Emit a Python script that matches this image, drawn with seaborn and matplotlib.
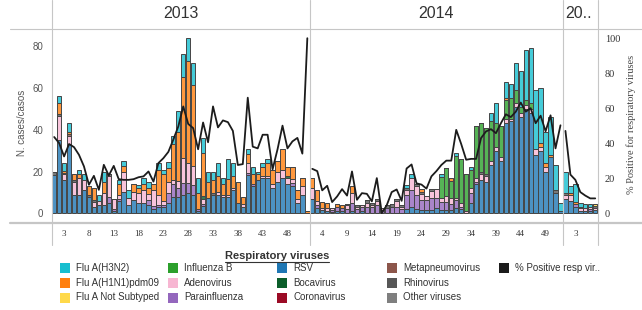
import numpy as np
import pandas as pd
import matplotlib
matplotlib.use("Agg")
import matplotlib.pyplot as plt
from matplotlib.lines import Line2D
from matplotlib.patches import Rectangle
import seaborn as sns

# ---- data: weekly cases per virus, one list per year pane ----
years = ["2013", "2014", "20.."]
weeks_2013 = list(range(1, 53))
weeks_2014 = list(range(2, 53))
weeks_2015 = list(range(1, 8))

rsv_2013 = [18.5, 35, 16, 33, 9, 9, 11, 8, 3, 4, 4, 5, 1, 6, 10.5, 4, 6.5, 5, 5, 4, 2, 3, 3, 5, 8, 8,
            9, 9.7, 9, 1, 3.5, 7.5, 9, 9, 8, 8, 11, 5, 3, 18.5, 13, 16, 17, 17, 12, 15, 17, 14, 13, 5, 9, 0]
rsv_2014 = [7, 2.5, 1.5, 1, 0.5, 1, 1, 0, 1, 0, 1, 0, 0, 0, 0, 0, 0, 0, 0, 2, 3, 2, 1.5, 1.5, 1.6, 2.6,
            1.5, 1.5, 1.5, 2.5, 2, 0, 5, 14, 16, 15, 23, 30, 25, 43, 44, 51, 46, 50, 48, 28, 30, 20, 27, 10, 1]
rsv_2015 = [7, 6, 3, 1, 1, 1, 1.5]

para_2013 = [0, 0, 0, 0, 0, 0, 0, 0, 0, 0, 0, 3, 1, 1, 0, 0, 0, 0, 0, 2.5, 1.5, 1, 1, 5, 6, 4,
             5.5, 5, 4.8, 1, 1, 0, 0, 0, 0, 0, 0, 0, 0, 1, 1, 0, 0, 0, 0, 0, 0, 0, 1.5, 0, 0, 0]
para_2014 = [0, 1.5, 0, 0, 1, 2, 1.5, 2, 4, 2, 2, 3, 3, 4, 1.5, 2.5, 3, 3, 2, 7, 8, 7, 5, 5, 6, 5,
             4, 4, 3, 4, 1, 0, 5, 1, 0, 0, 0, 0, 0, 0, 0, 0, 0, 0, 0, 0, 0, 0, 0, 0, 0]
para_2015 = [0, 0, 1.5, 0, 0, 1, 0]

adeno_2013 = [0, 11.5, 3, 4, 6, 8, 5, 0, 2.5, 2, 6, 10, 5, 2, 9.5, 3.5, 4, 5, 6, 3, 7.5, 5, 2, 5, 2, 3.5,
              12, 9.5, 8.7, 0, 2.5, 0, 0, 1.5, 1, 1, 1, 0, 1.5, 4.5, 0, 0, 1, 1, 2, 5, 4, 3, 2, 2, 4, 0]
adeno_2014 = [5, 2, 1, 1.5, 1, 0, 0, 2, 5, 1, 1, 2, 1, 2, 1, 0, 0, 3, 1, 2, 6, 4, 3, 2, 3, 4,
              2, 3, 3, 1, 2, 1, 2, 2, 3, 3, 2, 2, 2, 2, 1, 2, 2, 2, 2, 3, 2, 2, 0, 0, 0]
adeno_2015 = [2, 3, 0, 1.5, 1.5, 1, 1]

rhino_2013 = [1.5, 1, 0.5, 0, 1, 0, 0, 1, 1, 0, 0, 1, 0, 0, 0, 0, 0, 0, 0, 0, 0, 0, 0, 0, 0, 0,
              0, 0, 0, 0, 0, 0, 0.8, 0, 0, 0, 0, 0, 0, 0, 0, 0, 0, 0, 0, 0, 0, 0, 0, 0, 0, 0]
rhino_2014 = [0, 0, 0, 0, 0, 0, 0, 0.5, 0, 1, 0, 1.5, 1, 1, 0, 1.5, 1.5, 1, 1, 1, 0, 1, 1, 0, 1, 0,
              0, 0, 0, 0, 0, 0, 0, 0, 1, 1, 0, 0, 0, 0, 0, 0, 0, 0, 0, 0, 0, 0, 0, 1, 0]
rhino_2015 = [1, 0, 0, 0.5, 0, 0, 1]

metapneumo_2013 = [0, 0, 0, 1, 0, 0, 0, 0, 0, 0, 0, 0, 0, 0, 0, 0, 0, 0, 0, 0, 0, 0, 0, 0, 0, 0,
                   0, 0, 0, 0, 0, 0, 0, 0, 0, 0, 0, 0, 0, 0, 0, 0, 0, 0, 0, 0, 0, 0, 0, 0, 0, 0]
boca_2013 = [0, 0, 0, 0, 0, 0, 0, 0, 0, 0, 0, 0, 0, 0, 0, 0, 0, 0, 0, 0, 0, 0, 0, 0, 0, 0,
             0, 0, 0, 0, 1.2, 0, 0, 0, 0, 0, 0, 0, 0, 0, 0, 0, 0, 0, 0, 0, 0, 1, 0, 0, 0, 0]

h1n1_2013 = [0, 5.5, 1, 1, 3, 2, 0, 4, 5.5, 0, 5, 0, 0, 5, 2.5, 0, 3.5, 2, 3, 2.5, 3, 12, 13, 6.5, 17, 23.5,
             38.5, 48.5, 39, 8, 20.8, 7.5, 6.2, 7.5, 5, 7.5, 6, 10, 3.5, 4.5, 5, 3, 4, 6, 7, 5, 10, 4, 5.5, 4, 4, 1]
h1n1_2014 = [5, 5, 3, 2.5, 0, 1.5, 1.5, 0, 3, 0, 0, 0, 0, 0, 0, 0, 0, 0, 0, 0, 0, 0, 1, 0, 0, 0,
             0, 0, 1.5, 0, 0, 0, 0, 0, 0, 0, 0, 0, 0, 1, 0, 0, 0, 0, 0, 0, 1.5, 2, 1, 0, 0]
h1n1_2015 = [0, 1, 1, 0, 0, 0, 0]

flub_2014 = [0, 0, 0, 0, 0, 0, 0, 0, 0, 0, 0, 0, 0, 0, 0, 0, 0, 0, 0, 0, 0, 0, 0, 0, 0, 0,
             10, 13, 8, 20, 21, 18, 9, 25, 23, 22, 19, 11, 15, 9, 10, 6, 3, 2, 3, 0, 0, 0, 0, 0, 0]

h3n2_2013 = [0, 3, 3.5, 4, 0, 2, 3, 0, 0, 3, 5, 0, 0, 2, 2.5, 3.5, 0, 1.5, 3, 3, 0, 3, 2, 3, 4, 10,
             11, 11, 10.5, 7, 7, 5, 4, 6, 3, 9.5, 6, 0, 0, 2.5, 3, 1, 2, 2, 0, 0, 0, 0, 0, 0, 0, 0]
h3n2_2014 = [0, 0, 0, 0, 0, 0, 0, 0, 0, 0, 0, 0, 0, 0, 0, 0, 0, 0, 0, 1.5, 2, 0, 0, 0, 0, 0,
             1.5, 0, 0, 1.5, 0, 0, 1, 0, 0, 0, 4, 10, 0, 8, 7, 13, 17, 24, 26, 28, 26.5, 15, 18, 12, 4]
h3n2_2015 = [10, 3, 8.5, 2, 2, 1.5, 0]

notsub_2015 = [0, 0, 0, 0, 0, 0, 1]

# % positive for respiratory viruses
pct_2013 = [43.5, 40, 32.4, 39.5, 37.7, 33.3, 26.7, 16.2, 21.3, 13.3, 27.6, 21.5, 27, 19.4, 19, 19, 19.4,
            20.5, 21, 23.8, 18, 28.6, 31.4, 35, 42, 49.5, 61, 51, 48.6, 36.5, 51.8, 40.5, 61, 49, 53, 52,
            47, 27.5, 28, 66, 38, 37, 44.8, 44.8, 25, 36.5, 50, 37, 41, 43, 34, 100]
pct_2014 = [25.3, 24, 13, 15.6, 6.3, 9.5, 13.7, 10, 23.8, 7.6, 11.4, 11, 6.7, 20, 0, 4.5, 12, 13.5, 7,
            25.5, 27.8, 17, 16.3, 14, 21, 24, 27.5, 30, 30, 47.6, 39.5, 30.5, 31, 31, 42.9, 46.7, 48,
            45.7, 51.4, 56.5, 54.9, 58, 63.2, 58, 60, 51.4, 55.7, 46.8, 55.9, 37, 50.2]
pct_2015 = [47, 22, 19, 12, 10, 8.4, 8.4]

# ---- assemble ----
n13, n14, n15 = len(weeks_2013), len(weeks_2014), len(weeks_2015)
zeros13, zeros14, zeros15 = [0] * n13, [0] * n14, [0] * n15
week_labels = weeks_2013 + weeks_2014 + weeks_2015
pos = np.arange(len(week_labels))
pane = [years[0]] * n13 + [years[1]] * n14 + [years[2]] * n15

# stacking order: first is on top
series = {
    "Flu A(H3N2)": h3n2_2013 + h3n2_2014 + h3n2_2015,
    "Flu A(H1N1)pdm09": h1n1_2013 + h1n1_2014 + h1n1_2015,
    "Flu A Not Subtyped": zeros13 + zeros14 + notsub_2015,
    "Influenza B": zeros13 + flub_2014 + zeros15,
    "Bocavirus": boca_2013 + zeros14 + zeros15,
    "Metapneumovirus": metapneumo_2013 + zeros14 + zeros15,
    "Rhinovirus": rhino_2013 + rhino_2014 + rhino_2015,
    "Adenovirus": adeno_2013 + adeno_2014 + adeno_2015,
    "Parainfluenza": para_2013 + para_2014 + para_2015,
    "RSV": rsv_2013 + rsv_2014 + rsv_2015,
}
rows = []
for name, vals in series.items():
    for p, v in zip(pos, vals):
        rows.append((p, name, v))
cases_df = pd.DataFrame(rows, columns=["pos", "virus", "cases"])
pct_df = pd.DataFrame({"pos": pos, "pct": pct_2013 + pct_2014 + pct_2015, "pane": pane})

colors = {
    "Flu A(H3N2)": "#17becf",
    "Flu A(H1N1)pdm09": "#ff7f0e",
    "Flu A Not Subtyped": "#ffd94a",
    "Influenza B": "#2ca02c",
    "Adenovirus": "#f7b6d2",
    "Parainfluenza": "#9467bd",
    "RSV": "#1f77b4",
    "Bocavirus": "#0b5e2a",
    "Coronavirus": "#9b0b25",
    "Metapneumovirus": "#8c564b",
    "Rhinovirus": "#575757",
    "Other viruses": "#7f7f7f",
}
line_color = "#1c1c1c"

# ---- figure ----
sns.set_theme(style="white")
plt.rcParams["font.family"] = ["Liberation Sans", "DejaVu Sans"]

W, H = 642, 310
fig = plt.figure(figsize=(W / 100, H / 100), dpi=100)


def fx(x):
    return x / W


def fy(y):
    return 1 - y / H


ax_l, ax_r, ax_t, ax_b = 51.7, 597.7, 29.3, 222.7
ax = fig.add_axes([fx(ax_l), fy(ax_b), (ax_r - ax_l) / W, (ax_b - ax_t) / H])

sns.histplot(data=cases_df, x="pos", weights="cases", hue="virus", hue_order=list(series.keys()),
             palette=colors, multiple="stack", discrete=True, shrink=0.88, alpha=0.8,
             edgecolor="#454545", linewidth=0.7, legend=False, ax=ax)
ax.set_xlim(-0.5, len(pos) - 0.5)
ax.set_ylim(-4.4, 88)
ax.set_yticks([0, 20, 40, 60, 80])
ax.tick_params(axis="y", length=0, pad=6, labelsize=7, labelcolor="#555555")
ax.set_xlabel("")
ax.set_ylabel("")

# x ticks: every 5th week inside each pane
offsets = [0, n13, n13 + n14]
ticks = []
for off, n in zip(offsets, [n13, n14, n15]):
    ticks += [off + i for i in range(2, n, 5)]
ax.set_xticks(ticks)
ax.set_xticklabels([str(week_labels[t]) for t in ticks], fontfamily="Liberation Serif",
                   fontsize=6.5, color="#333333")
ax.tick_params(axis="x", length=0, pad=5)

ax2 = ax.twinx()
sns.lineplot(data=pct_df, x="pos", y="pct", units="pane", estimator=None, color=line_color,
             lw=1.3, ax=ax2)
ax2.set_ylim(-5.5, 105.1)
ax2.set_xlim(-0.5, len(pos) - 0.5)
ax2.set_yticks([0, 20, 40, 60, 80, 100])
ax2.set_yticklabels(["0", "20", "40", "60", "80", "100"], fontfamily="Liberation Serif",
                    fontsize=7.5, color="#333333")
ax2.tick_params(axis="y", length=0, pad=5)
ax2.set_ylabel("")
ax2.set_xlabel("")
for a in (ax, ax2):
    for s in a.spines.values():
        s.set_visible(False)
    a.grid(False)

# pane frame lines
grid_c = "#c6c6c6"
fig.add_artist(Line2D([fx(10), fx(W)], [fy(ax_t), fy(ax_t)], color=grid_c, lw=0.8))
fig.add_artist(Line2D([fx(10), fx(W)], [fy(ax_b), fy(ax_b)], color=grid_c, lw=1.6))
x_per = (ax_r - ax_l) / len(pos)
bounds = [ax_l, ax_l + n13 * x_per, ax_l + (n13 + n14) * x_per, ax_r]
for bx in bounds:
    fig.add_artist(Line2D([fx(bx), fx(bx)], [fy(0), fy(245)], color=grid_c, lw=0.8))

fig.text(fx((bounds[0] + bounds[1]) / 2), fy(13), years[0], ha="center", va="center",
         fontsize=11.5, color="#333333")
fig.text(fx((bounds[1] + bounds[2]) / 2), fy(13), years[1], ha="center", va="center",
         fontsize=11.5, color="#333333")
fig.text(fx(bounds[2] + 2), fy(13), years[2], ha="left", va="center", fontsize=11.5, color="#333333")

fig.text(fx(22), fy(123), "N. cases/casos", rotation=90, ha="center", va="center",
         fontsize=7, color="#555555")
fig.text(fx(631), fy(124), "% Positive for respiratory viruses", rotation=90, ha="center",
         va="center", fontsize=7.5, color="#444444", fontfamily="Liberation Serif")

# legend
legend_names = ["Flu A(H3N2)", "Flu A(H1N1)pdm09", "Flu A Not Subtyped", "Influenza B", "Adenovirus",
                "Parainfluenza", "RSV", "Bocavirus", "Coronavirus", "Metapneumovirus", "Rhinovirus",
                "Other viruses", "% Positive resp vir.."]
col_x = [60, 168, 277, 387, 499]
row_y = [268, 283, 297.5]
for i, name in enumerate(legend_names):
    c, r = divmod(i, 3)
    x0, yc = col_x[c], row_y[r]
    fc = colors.get(name, line_color)
    fig.add_artist(Rectangle((fx(x0), fy(yc + 5)), 10 / W, 10 / H, facecolor=fc,
                             edgecolor="none", transform=fig.transFigure))
    fig.text(fx(x0 + 16), fy(yc), name, ha="left", va="center", fontsize=7, color="#333333")

title = fig.text(fx(277), fy(256), "Respiratory viruses", ha="center", va="center", fontsize=8,
                 fontweight="bold", color="#333333")
fig.canvas.draw()
bb = title.get_window_extent()
fig.add_artist(Line2D([bb.x0 / W, bb.x1 / W], [(bb.y0 - 1) / H, (bb.y0 - 1) / H],
                      color="#333333", lw=0.8))

fig.savefig("out.png", dpi=100)
